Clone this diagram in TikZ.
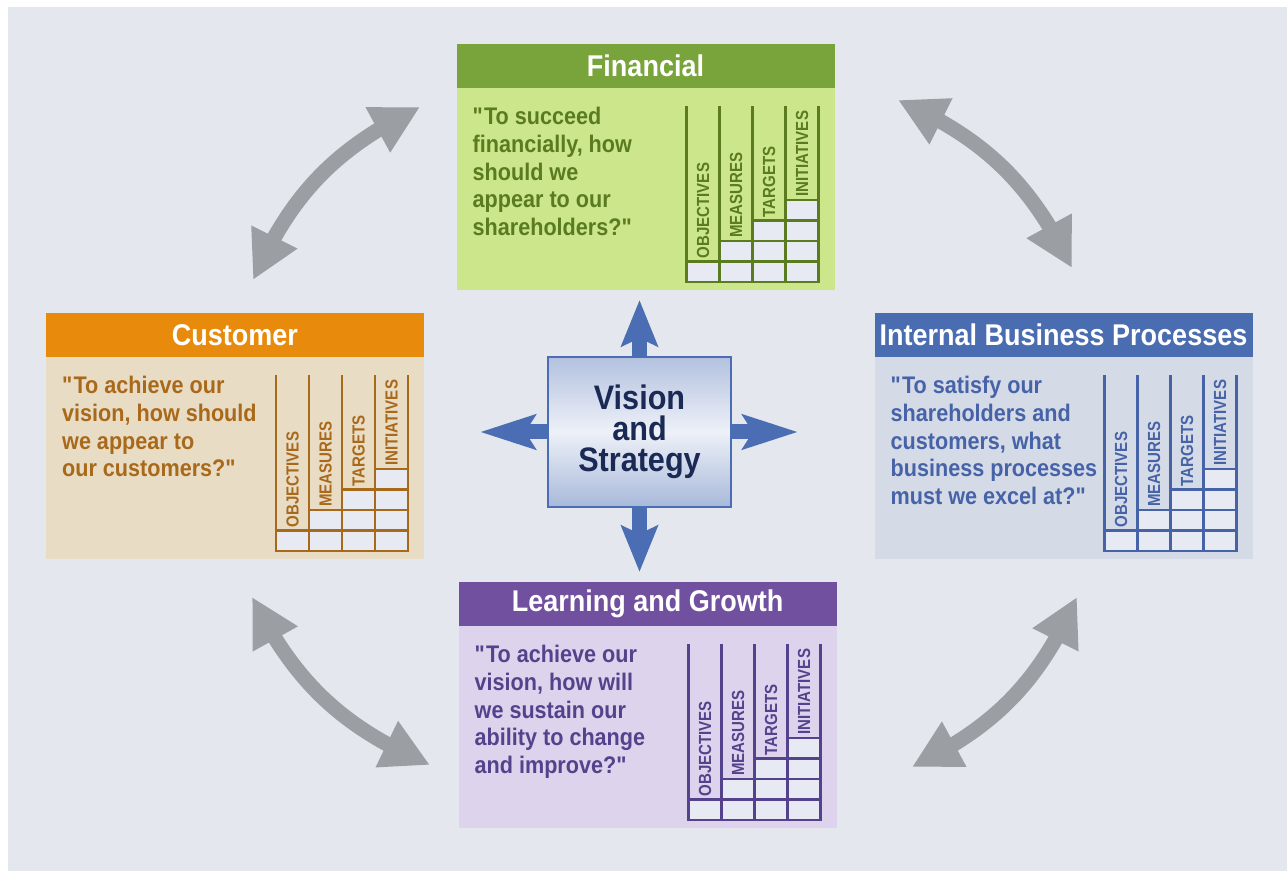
\documentclass[tikz,border=0pt]{standalone}
\usepackage{fontspec}
\setmainfont[FakeStretch=0.9]{Liberation Sans}
\newfontfamily\gridfont[FakeStretch=0.86]{Liberation Sans}
\usetikzlibrary{positioning,calc,arrows.meta,bending}

\definecolor{bgcol}{HTML}{E4E8EE}
\definecolor{cellfill}{HTML}{E7EAF3}
\definecolor{arrowgray}{HTML}{9B9FA4}
\definecolor{visionblue}{HTML}{4B6DB3}
\definecolor{visiontext}{HTML}{1B2A55}
\definecolor{fintitle}{HTML}{79A33B}
\definecolor{finbody}{HTML}{CBE68B}
\definecolor{fintext}{HTML}{5A7B20}
\definecolor{custitle}{HTML}{E88A0C}
\definecolor{cusbody}{HTML}{E9DCC5}
\definecolor{custext}{HTML}{A8691A}
\definecolor{inttitle}{HTML}{4A6CB0}
\definecolor{intbody}{HTML}{D5DAE7}
\definecolor{inttext}{HTML}{4763A8}
\definecolor{lrntitle}{HTML}{71519F}
\definecolor{lrnbody}{HTML}{DED3EC}
\definecolor{lrntext}{HTML}{55428C}

\newcommand{\qq}{\textquotedbl}

\tikzset{
  bar/.style={minimum width=378pt, minimum height=44pt, inner sep=0pt, outer sep=0pt,
    text=white, font=\bfseries\fontsize{30}{30}\selectfont},
  panel/.style={minimum width=378pt, minimum height=202pt, inner sep=0pt, outer sep=0pt},
  quote/.style={inner sep=0pt, align=left, anchor=north west,
    font=\bfseries\fontsize{24}{27.8}\selectfont},
  cell/.style={fill=cellfill, line width=2.6pt},
  gridlabel/.style={rotate=90, anchor=west, inner sep=0pt,
    font=\gridfont\bfseries\fontsize{17.5}{17.5}\selectfont},
  gray arrow/.style={draw=arrowgray, line width=15pt,
    {Triangle[length=48pt,width=48pt]}-{Triangle[length=48pt,width=48pt]}},
  blue arrow/.style={draw=visionblue, line width=15pt,
    -{Stealth[length=46pt,width=36pt,inset=8pt]}},
}

% objectives / measures / targets / initiatives grid in the corner of a panel
\newcommand{\kpigrid}[2]{%
  \begin{scope}[shift={($(#1.south east)+(-148,8)$)}]
    \foreach \c in {0,...,3}
      \foreach \r in {0,...,\c}
        \draw[cell, draw=#2] (\c*33,\r*20.5) rectangle ++(33,20.5);
    \foreach \c in {0,...,4}
      \draw[line width=2.6pt, draw=#2] (\c*33,0) -- (\c*33,176);
    \foreach \c/\txt in {0/OBJECTIVES,1/MEASURES,2/TARGETS,3/INITIATIVES}
      \node[gridlabel, text=#2] at (\c*33+16.5,{(\c+1)*20.5+3}) {\txt};
  \end{scope}}

\begin{document}
\begin{tikzpicture}[x=1pt, y=1pt]
\useasboundingbox (0,0) rectangle (1287,871);
\fill[white] (0,0) rectangle (1287,871);
\fill[bgcol] (8,0) rectangle (1287,864);

% four perspectives
\node[bar, fill=fintitle] (fintitle) at (645.5,805) {Financial};
\node[panel, fill=finbody, below=0pt of fintitle] (fin) {};
\node[quote, text=fintext] (finq) at ($(fin.north west)+(16,-19)$)
  {\qq To succeed\\financially, how\\should we\\appear to our\\shareholders?\qq};
\kpigrid{fin}{fintext}

\node[bar, fill=custitle] (custitle) at (235,536) {Customer};
\node[panel, fill=cusbody, below=0pt of custitle] (cus) {};
\node[quote, text=custext] (cusq) at ($(cus.north west)+(16,-19)$)
  {\qq To achieve our\\vision, how should\\we appear to\\our customers?\qq};
\kpigrid{cus}{custext}

\node[bar, fill=inttitle] (inttitle) at (1063.5,536) {Internal Business Processes};
\node[panel, fill=intbody, below=0pt of inttitle] (int) {};
\node[quote, text=inttext] (intq) at ($(int.north west)+(16,-19)$)
  {\qq To satisfy our\\shareholders and\\customers, what\\business processes\\must we excel at?\qq};
\kpigrid{int}{inttext}

\node[bar, fill=lrntitle] (lrntitle) at (647.5,267) {Learning and Growth};
\node[panel, fill=lrnbody, below=0pt of lrntitle] (lrn) {};
\node[quote, text=lrntext] (lrnq) at ($(lrn.north west)+(16,-19)$)
  {\qq To achieve our\\vision, how will\\we sustain our\\ability to change\\and improve?\qq};
\kpigrid{lrn}{lrntext}

% centre box and its arrows
\node[draw=visionblue, line width=2.5pt, minimum width=183pt, minimum height=150pt,
  top color=visionblue!42!white, bottom color=visionblue!48!white, middle color=white!90!visionblue,
  text=visiontext, align=center, font=\bfseries\fontsize{34}{31}\selectfont] (vision)
  at (639.5,439) {Vision\\and\\Strategy};
\coordinate (uptip) at (639.5,571);
\coordinate (downtip) at (639.5,299);
\coordinate (lefttip) at (480,439);
\coordinate (righttip) at (798,439);
\draw[blue arrow] (vision.north) -- (uptip);
\draw[blue arrow] (vision.south) -- (downtip);
\draw[blue arrow, -{Stealth[length=55pt,width=34pt,inset=10pt]}] (vision.west) -- (lefttip);
\draw[blue arrow, -{Stealth[length=55pt,width=34pt,inset=10pt]}] (vision.east) -- (righttip);

% links between the perspectives
\coordinate (tla) at (253,591);
\coordinate (tlb) at (420,764);
\coordinate (tra) at (898,771);
\coordinate (trb) at (1072,603);
\coordinate (bla) at (252,274);
\coordinate (blb) at (430,106);
\coordinate (bra) at (912,104);
\coordinate (brb) at (1077,274);
\draw[gray arrow] (tla) to[bend left=20] (tlb);
\draw[gray arrow] (tra) to[bend left=20] (trb);
\draw[gray arrow] (bla) to[bend right=20] (blb);
\draw[gray arrow] (bra) to[bend right=20] (brb);
\end{tikzpicture}
\end{document}
